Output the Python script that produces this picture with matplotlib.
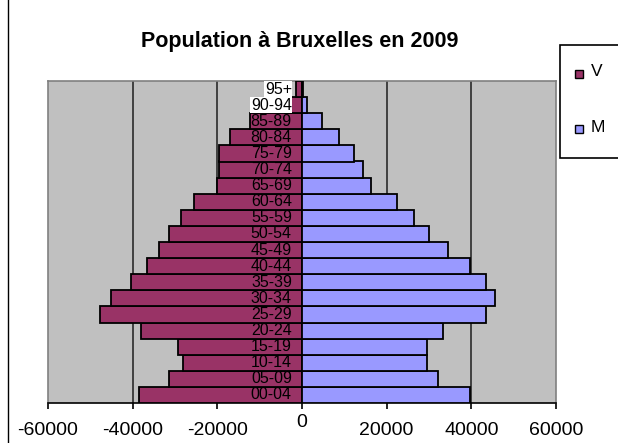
import matplotlib
matplotlib.use("Agg")
import matplotlib.pyplot as plt
from matplotlib.patches import Rectangle
from matplotlib.lines import Line2D
from matplotlib.transforms import ScaledTranslation

plt.rcParams['font.family'] = ['Liberation Sans', 'DejaVu Sans']

age_groups = ["00-04", "05-09", "10-14", "15-19", "20-24", "25-29", "30-34",
              "35-39", "40-44", "45-49", "50-54", "55-59", "60-64", "65-69",
              "70-74", "75-79", "80-84", "85-89", "90-94", "95+"]
vrouwen = [38400, 31300, 28100, 29400, 38000, 47700, 45000, 40500, 36600, 33800,
           31300, 28600, 25500, 20100, 19700, 19700, 17000, 12200, 3900, 1400]
mannen = [39700, 32200, 29600, 29600, 33200, 43400, 45600, 43400, 39700, 34500,
          30100, 26500, 22500, 16200, 14500, 12400, 8700, 4700, 1100, 300]
x_ticks = [-60000, -40000, -20000, 0, 20000, 40000, 60000]
grid_x = [-40000, -20000, 20000, 40000]

W, H = 618, 443
fig = plt.figure(figsize=(W / 100, H / 100), dpi=100)
fig.patch.set_facecolor("white")

ax = fig.add_axes([48 / W, (H - 403) / H, (556 - 48) / W, (403 - 81) / H])
ax.set_facecolor("#C0C0C0")

y = list(range(len(age_groups)))
ax.barh(y, [-v for v in vrouwen], height=1.0, color="#993366",
        edgecolor="black", linewidth=1.3, zorder=3)
ax.barh(y, mannen, height=1.0, color="#9999FF",
        edgecolor="black", linewidth=1.3, zorder=3)

for gx in grid_x:
    ax.axvline(gx, color="#404040", linewidth=1.4, zorder=1)

ax.set_xlim(-60000, 60000)
ax.set_ylim(-0.5, len(age_groups) - 0.5)
ax.set_yticks([])
ax.set_xticks(x_ticks)
ax.set_xticklabels([str(t) for t in x_ticks], fontsize=14)
ax.tick_params(axis="x", direction="out", length=4, width=1.2, color="black", pad=10)
for lbl, t in zip(ax.get_xticklabels(), x_ticks):
    if t == 0:
        lbl.set_transform(lbl.get_transform() + ScaledTranslation(0, 6 / 72, fig.dpi_scale_trans))

for side in ("left", "right", "top"):
    ax.spines[side].set_color("#808080")
    ax.spines[side].set_linewidth(1.2)
ax.spines["bottom"].set_color("black")
ax.spines["bottom"].set_linewidth(1.2)

# age-group labels just left of the centre axis
for i, lab in enumerate(age_groups):
    kw = {}
    if i >= len(age_groups) - 2:
        kw["bbox"] = dict(facecolor="white", edgecolor="none", pad=0.3)
    ax.text(-2400, i, lab, ha="right", va="center", fontsize=11.5,
            color="black", zorder=4, **kw)

fig.text(300 / W, 1 - 42 / H, "Population à Bruxelles en 2009", ha="center",
         va="center", fontsize=15.5, fontweight="bold")

# legend box (runs past the right edge)
fig.patches.append(Rectangle((560 / W, 1 - 158 / H), 80 / W, (158 - 45) / H,
                             transform=fig.transFigure, facecolor="white",
                             edgecolor="black", linewidth=1.2))
for yy, col, name in [(74, "#993366", "V"), (129, "#9999FF", "M")]:
    fig.patches.append(Rectangle(((579 - 4) / W, 1 - (yy + 4) / H), 8 / W, 8 / H,
                                 transform=fig.transFigure, facecolor=col,
                                 edgecolor="black", linewidth=1.0))
    fig.text(591 / W, 1 - (yy - 2) / H, name, ha="left", va="center", fontsize=12.5)

# chart frame edge on the left
fig.lines.append(Line2D([8 / W, 8 / W], [0, 1], transform=fig.transFigure,
                        color="black", linewidth=1.0))

fig.savefig("out.png", dpi=100)
